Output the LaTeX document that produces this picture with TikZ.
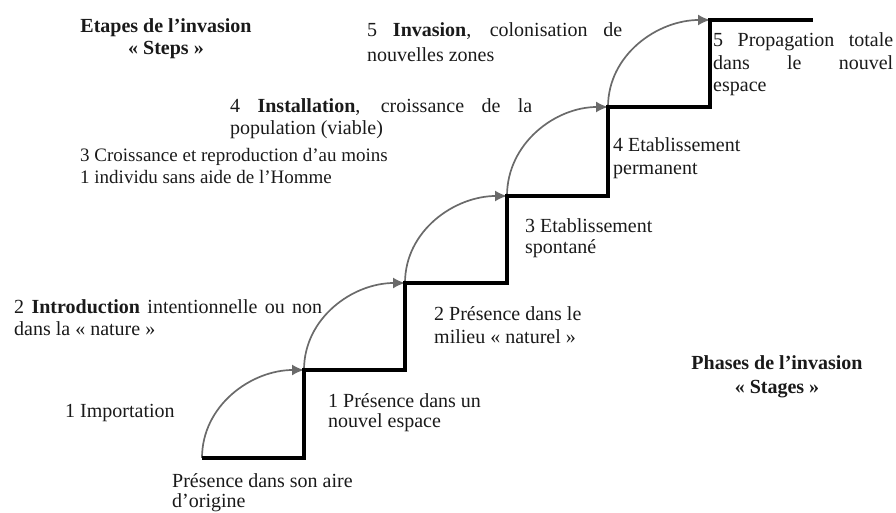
\documentclass[tikz,border=0pt]{standalone}
\usepackage{fontspec}
\setmainfont{Liberation Serif}
\usetikzlibrary{arrows.meta}
\definecolor{stepgray}{HTML}{6A6A6A}
\definecolor{ink}{HTML}{1A1A1A}
\begin{document}
\begin{tikzpicture}[x=1pt,y=-1pt,
  stair/.style={draw=black,line width=3.6pt,line join=miter,line cap=butt},
  hop/.style={draw=stepgray,line width=1.7pt,-{Latex[length=12pt,width=11pt]}},
  lbl/.style={anchor=base west,inner sep=0pt,align=left,text=ink,
    font=\fontsize{20}{22}\selectfont},
  ttl/.style={anchor=base,inner sep=0pt,align=center,text=ink,
    font=\fontsize{20}{22}\selectfont\bfseries}]
\useasboundingbox (0,0) rectangle (896,513);

% corners of the staircase
\coordinate (s0)  at (202,458);
\coordinate (s1a) at (304,458);
\coordinate (s1)  at (304,370);
\coordinate (s2a) at (405,370);
\coordinate (s2)  at (405,283);
\coordinate (s3a) at (507,283);
\coordinate (s3)  at (507,196);
\coordinate (s4a) at (608,196);
\coordinate (s4)  at (608,107);
\coordinate (s5a) at (710,107);
\coordinate (s5)  at (710,20);
\coordinate (s6)  at (813,20);

% curved arrows jumping from one step to the next
\draw[hop] (s0) to[out=90,in=180] (s1);
\draw[hop] (s1) to[out=90,in=180] (s2);
\draw[hop] (s2) to[out=90,in=180] (s3);
\draw[hop] (s3) to[out=90,in=180] (s4);
\draw[hop] (s4) to[out=90,in=180] (s5);

% the staircase
\draw[stair] (s0) -- (s1a) -- (s1) -- (s2a) -- (s2) -- (s3a) -- (s3)
  -- (s4a) -- (s4) -- (s5a) -- (s5) -- (s6);

% titles (node base = baseline of the last line)
\node[ttl] (tsteps) at (166,55) {Etapes de l’invasion\\« Steps »};
\node[ttl,font=\fontsize{20}{24}\selectfont\bfseries] (tstages) at (777,393)
  {Phases de l’invasion\\« Stages »};

% steps (left of the arrows)
\node[lbl] (e1) at (65,417) {1 Importation};
\node[lbl] (e2) at (14,335)
  {\makebox[308pt][s]{2 \textbf{Introduction} intentionnelle ou non}\\dans la « nature »};
\node[lbl,font=\fontsize{19}{21}\selectfont] (e3) at (80,183)
  {3 Croissance et reproduction d’au moins\\1 individu sans aide de l’Homme};
\node[lbl] (e4) at (230,135)
  {\makebox[302pt][s]{4 \textbf{Installation}, croissance de la}\\population (viable)};
\node[lbl,font=\fontsize{20}{25}\selectfont] (e5) at (367,62)
  {\makebox[255pt][s]{5 \textbf{Invasion}, colonisation de}\\nouvelles zones};

% stages (under the treads)
\node[lbl,font=\fontsize{20}{20}\selectfont] (p0) at (172,507)
  {Présence dans son aire\\d’origine};
\node[lbl,font=\fontsize{20}{20}\selectfont] (p1) at (328,427)
  {1 Présence dans un\\nouvel espace};
\node[lbl,font=\fontsize{20}{23}\selectfont] (p2) at (434,343)
  {2 Présence dans le\\milieu « naturel »};
\node[lbl,font=\fontsize{20}{21}\selectfont] (p3) at (525,253)
  {3 Etablissement\\spontané};
\node[lbl,font=\fontsize{20}{23}\selectfont] (p4) at (613,175)
  {4 Etablissement\\permanent};
\node[lbl,font=\fontsize{20}{22.5}\selectfont] (p5) at (713,92)
  {\makebox[180pt][s]{5 Propagation totale}\\\makebox[180pt][s]{dans le nouvel}\\espace};
\end{tikzpicture}
\end{document}
